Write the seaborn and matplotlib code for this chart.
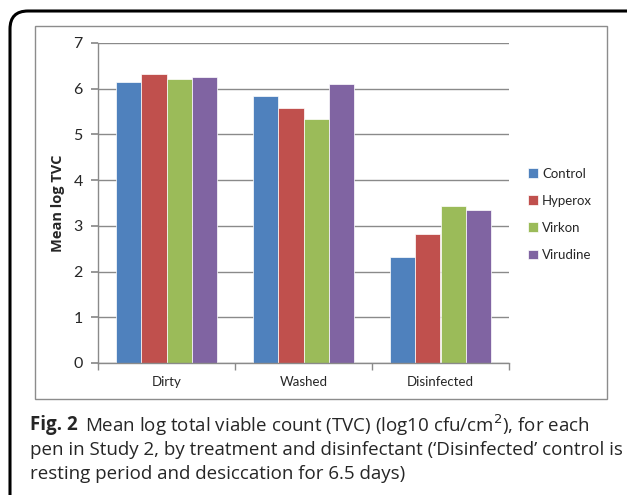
import matplotlib
matplotlib.use("Agg")
import matplotlib.pyplot as plt
import seaborn as sns
import pandas as pd
from matplotlib.patches import Rectangle, PathPatch
from matplotlib.path import Path

# values
stages = ["Dirty", "Washed", "Disinfected"]
treatments = ["Control", "Hyperox", "Virkon", "Virudine"]
control = [6.14, 5.84, 2.32]
hyperox = [6.32, 5.57, 2.82]
virkon = [6.22, 5.34, 3.43]
virudine = [6.26, 6.10, 3.35]
colors = ["#4F81BD", "#C0504D", "#9BBB59", "#8064A2"]

rows = []
for name, vals in zip(treatments, [control, hyperox, virkon, virudine]):
    for st, v in zip(stages, vals):
        rows.append({"stage": st, "treatment": name, "tvc": v})
df = pd.DataFrame(rows)

sns.set_theme(style="white")
plt.rcParams["font.family"] = ["Lato", "DejaVu Sans"]

W, H = 627, 495
fig = plt.figure(figsize=(W / 100, H / 100), dpi=100)

# outer frame (top and left with rounded corner)
r = 18
verts = [(627 / W, 1 - 11 / H), ((10 + r) / W, 1 - 11 / H), (10 / W, 1 - 11 / H),
         (10 / W, 1 - (11 + r) / H), (10 / W, 0)]
codes = [Path.MOVETO, Path.LINETO, Path.CURVE3, Path.CURVE3, Path.LINETO]
fig.add_artist(PathPatch(Path(verts, codes), fill=False, lw=2.2, ec="black",
                         transform=fig.transFigure))

# inner chart box
fig.add_artist(Rectangle((35 / W, 1 - 399 / H), (607 - 35) / W, (399 - 26) / H,
                         fill=False, lw=1.0, ec="#8c8c8c", transform=fig.transFigure))

ax = fig.add_axes([98 / W, 1 - 363 / H, (509 - 98) / W, (363 - 43) / H])
sns.barplot(data=df, x="stage", y="tvc", hue="treatment", palette=colors,
            saturation=1, width=0.73, gap=0, ax=ax, edgecolor="white", linewidth=0.5)

ax.set_ylim(0, 7)
ax.set_xlim(-0.5, 2.5)
ax.set_yticks(range(0, 8))
ax.yaxis.grid(True, color="#8a8a8a", lw=1.0)
ax.set_axisbelow(True)
for s in ["top", "right"]:
    ax.spines[s].set_visible(False)
for s in ["left", "bottom"]:
    ax.spines[s].set_color("#8a8a8a")
    ax.spines[s].set_linewidth(1.0)
ax.tick_params(axis="y", length=5, color="#8a8a8a", labelsize=11.5, pad=6, left=True)
ax.tick_params(axis="x", length=0, labelsize=9.5, pad=9)
ax.set_xticks([-0.5, 0.5, 1.5, 2.5], minor=True)
ax.tick_params(axis="x", which="minor", length=5, color="#8a8a8a", bottom=True)
ax.set_xlabel("")
ax.set_ylabel("Mean log TVC", fontsize=10.5, fontweight="bold", labelpad=6,
              family=["Open Sans", "DejaVu Sans"])

leg = ax.legend(loc="upper left", bbox_to_anchor=(1.018, 0.648), frameon=False,
                fontsize=9.5, handlelength=0.75, handleheight=0.75,
                handletextpad=0.3, labelspacing=1.15)

cap = dict(family=["Open Sans", "DejaVu Sans"], va="center")
fig.text(30 / W, 1 - 425 / H, "Fig. 2", fontweight="bold", fontsize=13.5, **cap)
line1 = fig.text(85 / W, 1 - 425 / H,
                 "Mean log total viable count (TVC) (log10 cfu/cm$^{2}$), for each",
                 fontsize=13.5, **cap)
# fit first caption line so it ends where the reference line ends
rend = fig.canvas.get_renderer()
w = line1.get_window_extent(rend).width
line1.set_fontsize(13.5 * (590 - 85) / w)
fig.text(30 / W, 1 - 450 / H,
         "pen in Study 2, by treatment and disinfectant (\u2018Disinfected\u2019 control is",
         fontsize=13.5, **cap)
fig.text(30 / W, 1 - 474 / H, "resting period and desiccation for 6.5 days)",
         fontsize=13.5, **cap)

fig.savefig("out.png", dpi=100)
